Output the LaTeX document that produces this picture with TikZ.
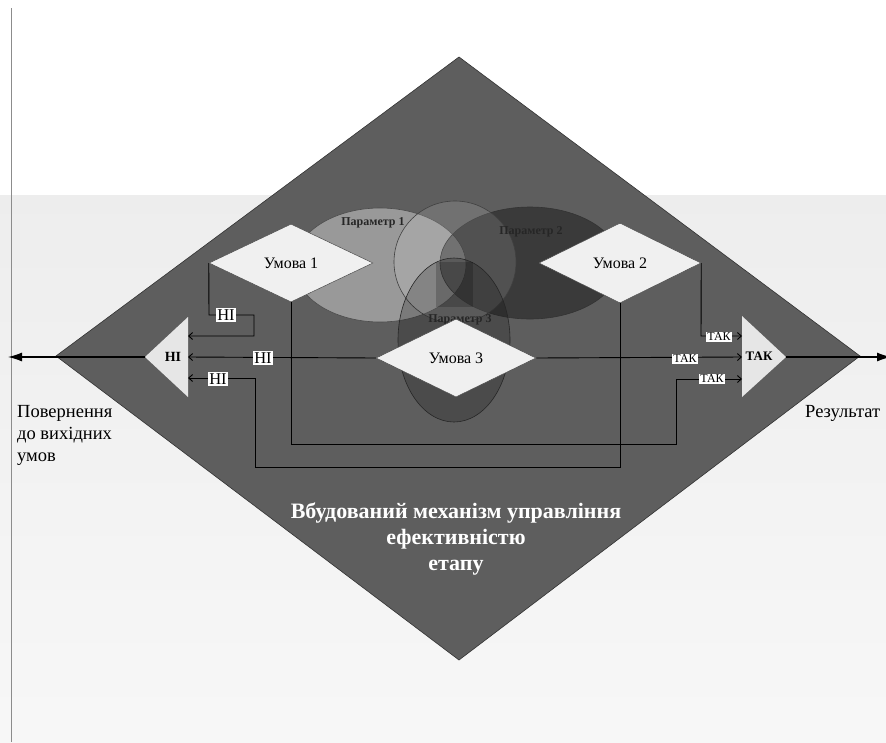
\documentclass[tikz,border=0pt]{standalone}
\usepackage{fontspec}
\setmainfont{Liberation Serif}
\usetikzlibrary{arrows.meta,shapes.geometric}
\definecolor{bigfill}{HTML}{5E5E5E}
\definecolor{paleW}{HTML}{F0F0F0}
\definecolor{triW}{HTML}{E6E6E6}
\begin{document}
\begin{tikzpicture}[x=1pt,y=-1pt,
  wire/.style={draw=black, line width=0.9pt},
  conn/.style={wire, -{Straight Barb[length=4pt,width=7pt]}},
  mainarrow/.style={draw=black, line width=1.2pt, -{Latex[length=14pt,width=9pt]}},
  cond/.style={diamond, draw=black!70, fill=paleW, line width=0.5pt, inner sep=0pt,
    minimum width=164pt, minimum height=78pt, font=\fontsize{16}{16}\selectfont},
  nilbl/.style={fill=white, inner sep=1.3pt, font=\fontsize{16.5}{16.5}\selectfont},
  taklbl/.style={fill=white, inner sep=1pt, font=\fontsize{12}{12}\selectfont},
  parlbl/.style={font=\bfseries\fontsize{12}{12}\selectfont, text=black!85},
  sidetxt/.style={font=\fontsize{18.5}{22}\selectfont, align=left, inner sep=0pt}
]
\useasboundingbox (0,0) rectangle (886,742);
% background
\fill[white] (0,0) rectangle (886,742);
\shade[top color=black!7, bottom color=black!3] (0,195) rectangle (886,742);
\draw[black!45, line width=1pt] (11,8) -- (11,742);

% big diamond
\path[fill=bigfill, draw=black!80, line width=0.6pt]
  (459,57) -- (860,356) -- (459,660) -- (56,356) -- cycle;

% parameter ellipses
\fill[white, fill opacity=0.37] (380,265) ellipse [x radius=86, y radius=57];
\draw[black!70, line width=0.6pt] (380,265) ellipse [x radius=86, y radius=57];
\fill[black, fill opacity=0.38] (530,263) ellipse [x radius=90, y radius=56];
\draw[black!80, line width=0.6pt] (530,263) ellipse [x radius=90, y radius=56];
\fill[white, fill opacity=0.12] (455,262) circle [radius=61];
\draw[black!75, line width=0.6pt] (455,262) circle [radius=61];
\fill[black, fill opacity=0.2] (454,340) ellipse [x radius=56, y radius=82];
\draw[black!85, line width=0.6pt] (454,340) ellipse [x radius=56, y radius=82];
\fill[black, fill opacity=0.2] (436,262) rectangle (473,307);

\node[parlbl] (p1) at (373,223) {Параметр 1};
\node[parlbl] (p2) at (531,232) {Параметр 2};
\node[parlbl] (p3) at (460,320) {Параметр 3};

% condition diamonds
\node[cond] (u1) at (291,263) {Умова 1};
\node[cond, minimum width=162pt, minimum height=80pt] (u2) at (620,263) {Умова 2};
\node[cond, minimum width=160pt] (u3) at (456,358) {Умова 3};

% output triangles
\fill[triW] (145,357) -- (188,317) -- (188,397) -- cycle;
\fill[triW] (786,357) -- (742,316) -- (742,397) -- cycle;
\node[font=\bfseries\fontsize{14}{14}\selectfont] (tni) at (173,357) {НІ};
\node[font=\bfseries\fontsize{13}{13}\selectfont] (ttak) at (759,356) {ТАК};

\coordinate (lt1) at (188,336);
\coordinate (lt2) at (188,357);
\coordinate (lt3) at (188,378);
\coordinate (rt1) at (742,336);
\coordinate (rt2) at (742,357);
\coordinate (rt3) at (742,379);
\coordinate (lap) at (145,357);
\coordinate (rap) at (786,357);
\coordinate (lend) at (8,357);
\coordinate (rend) at (891,357);

% main arrows
\draw[mainarrow] (lap) -- (lend);
\draw[mainarrow] (rap) -- (rend);

% connectors "НІ"
\draw[conn] (u1.west) -- (209,315) -- (254,315) -- (254,336) -- (lt1);
\draw[conn] (u3.west) -- (lt2);
\draw[conn] (u2.south) -- (620,467) -- (255,467) -- (255,378) -- (lt3);
% connectors "ТАК"
\draw[conn] (u2.east) -- (701,336) -- (rt1);
\draw[conn] (u3.east) -- (rt2);
\draw[conn] (u1.south) -- (291,444) -- (676,444) -- (676,379) -- (rt3);

% labels
\node[nilbl] (n1) at (226,315) {НІ};
\node[nilbl] (n2) at (263,358) {НІ};
\node[nilbl] (n3) at (218,379) {НІ};
\node[taklbl] (k1) at (719,337) {ТАК};
\node[taklbl] (k2) at (685,359) {ТАК};
\node[taklbl] (k3) at (712,379) {ТАК};

% texts
\node[sidetxt, anchor=west] (ret) at (17,435) {Повернення\\до вихідних\\умов};
\node[sidetxt, anchor=west] (res) at (805,413) {Результат};
\node[font=\bfseries\fontsize{22}{26}\selectfont, text=white, align=center] (title)
  at (456,539) {Вбудований механізм управління\\ефективністю\\етапу};
\end{tikzpicture}
\end{document}
